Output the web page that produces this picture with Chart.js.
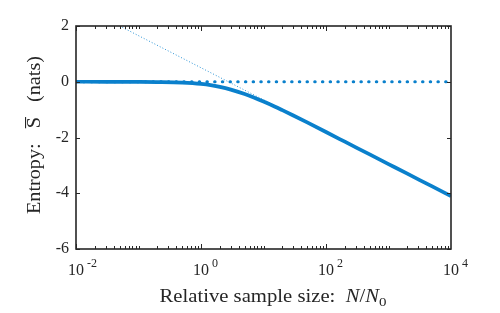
<!DOCTYPE html>
<html>
<head>
<meta charset="utf-8">
<script src="https://cdn.jsdelivr.net/npm/chart.js@4.4.0/dist/chart.umd.min.js"></script>
<style>
  html, body { margin: 0; padding: 0; background: #fff; }
</style>
</head>
<body>
<canvas id="chart" width="500" height="313"></canvas>
<script>
// entropy vs relative sample size
const sizes = [0.01, 0.03, 0.1, 0.2, 0.5, 1, 1.5, 2, 3, 5, 7, 10, 15, 20, 30, 50, 100, 200, 500, 1000, 2000, 5000, 10000];
const entropy = [0, -0.002, -0.006, -0.012, -0.032, -0.077, -0.13, -0.183, -0.282, -0.442, -0.566, -0.71, -0.886, -1.019, -1.211, -1.46, -1.803, -2.149, -2.607, -2.953, -3.299, -3.757, -4.103];

// thin dotted asymptote
const asymSizes = [0.05, 10000];
const asymEntropy = [2.0, -4.1];

// dotted line at zero
const zeroSizes = [0.01, 10000];
const zeroEntropy = [0, 0];

const xExponents = [-2, 0, 2, 4];
const yTicks = [-6, -4, -2, 0, 2];

const blue = '#0a80cc';
const ink = '#262626';
const serif = "'Liberation Serif', serif";

function pts(xs, ys) {
  return xs.map((v, i) => ({ x: v, y: ys[i] }));
}

// draws a run of [text, font, dy] pieces, squeezed/stretched to a given width
function drawRun(ctx, parts, cx, base, width) {
  let total = 0;
  parts.forEach(p => { ctx.font = p[1]; total += ctx.measureText(p[0]).width; });
  let k = width / total;
  ctx.save();
  ctx.translate(cx - width / 2, base);
  ctx.scale(k, 1);
  let pos = 0;
  parts.forEach(p => {
    ctx.font = p[1];
    let w = ctx.measureText(p[0]).width;
    ctx.fillText(p[0], pos, p[2]);
    if (p[3]) ctx.fillRect(pos, -15, w, 1.1); // overline
    pos += w;
  });
  ctx.restore();
}

// frame, inward ticks, 10^n labels and axis titles
const decor = {
  id: 'decor',
  afterDraw(chart) {
    const ctx = chart.ctx;
    const a = chart.chartArea;
    const x = chart.scales.x, y = chart.scales.y;
    ctx.save();
    ctx.strokeStyle = ink;
    ctx.lineWidth = 1.6;
    ctx.strokeRect(a.left, a.top, a.right - a.left, a.bottom - a.top);

    ctx.lineWidth = 1;
    ctx.beginPath();
    yTicks.forEach(v => {
      let py = Math.round(y.getPixelForValue(v)) + 0.5;
      ctx.moveTo(a.left, py); ctx.lineTo(a.left + 4, py);
      ctx.moveTo(a.right, py); ctx.lineTo(a.right - 4, py);
    });
    for (let e = -2; e < 4; e++) {
      for (let m = 1; m < 10; m++) {
        let px = Math.round(x.getPixelForValue(m * Math.pow(10, e))) + 0.5;
        let len = (m == 1 && e % 2 == 0) ? 5 : 3;
        ctx.moveTo(px, a.bottom); ctx.lineTo(px, a.bottom - len);
        ctx.moveTo(px, a.top); ctx.lineTo(px, a.top + len);
      }
    }
    ctx.stroke();

    ctx.fillStyle = ink;
    ctx.textBaseline = 'alphabetic';
    xExponents.forEach(e => {
      let px = x.getPixelForValue(Math.pow(10, e));
      ctx.font = '16px ' + serif;
      let w = ctx.measureText('10').width;
      ctx.textAlign = 'center';
      ctx.fillText('10', px, 275);
      ctx.font = '12px ' + serif;
      ctx.textAlign = 'left';
      ctx.fillText(String(e), px + w / 2 + 3, 267);
    });

    ctx.textAlign = 'left';
    drawRun(ctx, [
      ['Relative sample size:  ', '18px ' + serif, 0],
      ['N', 'italic 18px ' + serif, 0],
      ['/', '18px ' + serif, 0],
      ['N', 'italic 18px ' + serif, 0],
      ['0', '13px ' + serif, 4]
    ], 273, 302, 227);

    ctx.translate(40, 135);
    ctx.rotate(-Math.PI / 2);
    drawRun(ctx, [
      ['Entropy:   ', '18px ' + serif, 0],
      ['S', '18px ' + serif, 0, true],
      ['   (nats)', '18px ' + serif, 0]
    ], 0, 0, 158);
    ctx.restore();
  }
};

new Chart(document.getElementById('chart'), {
  type: 'line',
  data: {
    datasets: [
      {
        data: pts(sizes, entropy),
        borderColor: blue,
        borderWidth: 3.7,
        pointRadius: 0,
        cubicInterpolationMode: 'monotone',
        order: 1
      },
      {
        data: pts(zeroSizes, zeroEntropy),
        borderColor: blue,
        borderWidth: 3,
        borderDash: [0.5, 7.2],
        borderCapStyle: 'round',
        pointRadius: 0,
        order: 2
      },
      {
        data: pts(asymSizes, asymEntropy),
        borderColor: '#2c94d6',
        borderWidth: 1,
        borderDash: [1, 2],
        pointRadius: 0,
        order: 3
      }
    ]
  },
  options: {
    responsive: false,
    animation: false,
    layout: { padding: { left: 0, top: 26, right: 49, bottom: 0 } },
    plugins: { legend: { display: false }, tooltip: { enabled: false } },
    scales: {
      x: {
        type: 'logarithmic',
        min: 0.01,
        max: 10000,
        grid: { display: false },
        border: { display: false },
        ticks: { display: false },
        afterFit: s => { s.height = 64; }
      },
      y: {
        min: -6,
        max: 2,
        grid: { display: false, drawTicks: false },
        border: { display: false },
        ticks: {
          stepSize: 2,
          padding: 7,
          color: ink,
          font: { family: 'Liberation Serif', size: 16 }
        },
        afterFit: s => { s.width = 76; }
      }
    }
  },
  plugins: [decor]
});
</script>
</body>
</html>
